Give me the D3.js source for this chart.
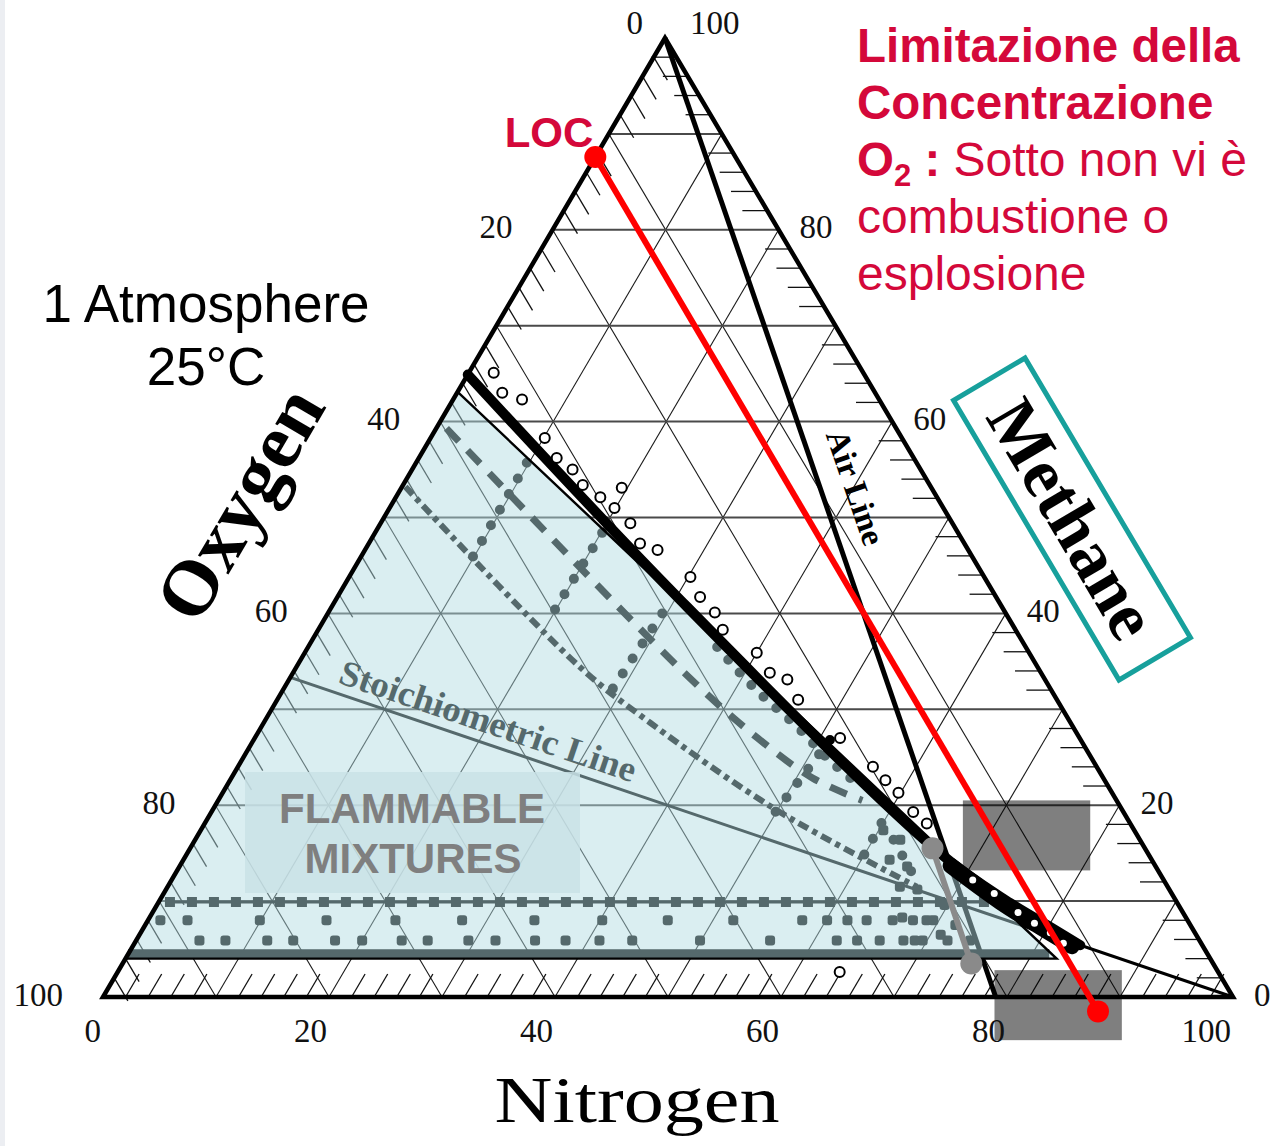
<!DOCTYPE html>
<html>
<head>
<meta charset="utf-8">
<script src="https://cdn.jsdelivr.net/npm/d3@7"></script>
<style>
  html, body { margin: 0; padding: 0; background: #ffffff; }
  svg { display: block; }
</style>
</head>
<body>
<svg id="chart" width="1270" height="1146"></svg>
<script>
// Methane / oxygen / nitrogen flammability diagram (ternary plot).
// Every point is written as [CH4 %, N2 %]; O2 = 100 - CH4 - N2.

const gridValues      = [10, 20, 30, 40, 50, 60, 70, 80, 90];
const minorTickValues = d3.range(2, 100, 2).filter(v => v % 10 !== 0);
const oxygenLabels    = [0, 20, 40, 60, 80, 100];
const methaneLabels   = [100, 80, 60, 40, 20, 0];
const nitrogenLabels  = [0, 20, 40, 60, 80, 100];

// Reference lines
const airLine    = [[100, 0], [0, 79]];
const stoichLine = [[33.33, 0], [0, 100]];
const locLine    = [[87.6, 0], [-1.5, 88.8]];        // limiting O2 concentration
const airSegment = [[15.5, 65.7], [3.5, 75.1]];

// Flammability envelope
const upperLimit = [[64.9, 0], [41.4, 30.5], [15.0, 66.6], [9.8, 75.4], [7.3, 80.2], [5.4, 83.8]];
const noseBand   = [[13.7, 68.2], [9.9, 74.5], [7.3, 79.3], [5.3, 83.1]];
const noseVoids  = [[12.2, 70.9], [10.8, 73.5], [8.8, 76.6], [7.7, 78.6], [6.7, 80.5], [5.6, 82.2]];
const flammableArea  = [[63.1, 0], [4.0, 82.4], [4.0, 0]];
const lowerLimitBand = [[4.5, 0], [4.5, 81.5]];

// Measured mixtures along the upper limit (open symbols)
const upperPoints = [
  [65.1, 2.2], [63.0, 4.0], [62.3, 6.1], [58.3, 10.1], [56.2, 12.2], [55.0, 14.2],
  [53.4, 15.9], [52.1, 18.1], [53.1, 19.5], [51.0, 19.9], [49.4, 22.1], [47.3, 24.0],
  [46.6, 25.9], [43.8, 30.2], [41.7, 32.1], [40.1, 34.2], [38.3, 35.8], [35.9, 40.0],
  [33.8, 42.2], [33.1, 44.1], [31.0, 46.1], [27.0, 51.8], [24.0, 56.2], [22.6, 58.0],
  [21.3, 59.8], [19.3, 62.1], [18.1, 63.9], [2.6, 63.9]
];

// Curves inside the flammable region
const dashedCurve  = [[59.3, 0.9], [33.9, 34.5], [27.0, 44.5], [22.8, 51.5], [20.5, 57.0]];
const dashDotCurve = [[53.2, 0.3], [34.4, 25.1], [28.6, 34.2], [19.5, 49.9], [11.5, 66.3]];
const dottedCurve  = [[36.5, 36.2], [32.3, 41.5], [28.2, 47.4], [24.7, 52.0], [22.3, 55.6]];
const dottedSegments = [
  [[55.7, 9.8], [45.9, 9.9]],
  [[48.4, 20.1], [40.0, 19.9]],
  [[40.0, 29.6], [31.7, 29.1]],
  [[26.8, 51.0], [19.2, 49.9]],
  [[19.8, 59.8], [14.6, 60.0]],
  [[16.4, 61.8], [12.9, 65.2]]
];
const rowTenPercent = [[9.9, 1.0], [9.9, 73.6]];
const rowEightN = [1.1, 3.5, 9.9, 15.8, 21.9, 27.8, 34.2, 40.2, 46.0, 51.8, 57.9, 60.1, 61.9, 63.6, 65.9, 67.7, 69.5];
const rowSixN   = [5.6, 7.9, 11.6, 13.9, 17.6, 20.0, 23.5, 25.8, 29.4, 31.8, 35.3, 38.0, 41.0, 43.9,
                   49.9, 56.1, 62.0, 63.8, 65.8, 67.9, 69.6, 71.8, 73.8];
const noseCluster = [
  [17.4, 60.4], [16.4, 62.4], [14.3, 62.5], [13.6, 64.4], [11.5, 64.8], [11.2, 66.5],
  [8.3, 66.6], [8.0, 68.9], [9.6, 69.7], [7.5, 71.7], [6.5, 70.9], [5.9, 68.9]
];

// Masked areas (corner pairs)
const maskAreas = [
  [[20.5, 65.9], [13.2, 80.8]],
  [[2.8, 77.5], [-4.5, 92.4]]
];

// ---- projection ----
const sx = d3.scaleLinear().domain([0, 100]).range([103, 1233]);  // N2 along the base
const sk = d3.scaleLinear().domain([0, 100]).range([0, 562]);     // horizontal shift due to CH4
const sy = d3.scaleLinear().domain([0, 100]).range([997, 38]);    // CH4 height
const P = d => [sx(d[1]) + sk(d[0]), sy(d[0])];
const path = d3.line().x(d => P(d)[0]).y(d => P(d)[1]);
const smooth = d3.line().curve(d3.curveCatmullRom.alpha(0.5)).x(d => P(d)[0]).y(d => P(d)[1]);

const svg = d3.select('#chart');
const serif = '"Liberation Serif", "Times New Roman", serif';
const sans = '"Liberation Sans", Arial, sans-serif';

svg.append('rect').attr('x', 0).attr('y', 0).attr('width', 1270).attr('height', 1146).attr('fill', '#fff');
svg.append('rect').attr('x', 0).attr('y', 0).attr('width', 5).attr('height', 1146).attr('fill', '#eceef2');

// ---- grid ----
const grid = svg.append('g');
gridValues.forEach(v => {
  grid.append('path').attr('d', path([[v, 0], [v, 100 - v]]))
    .attr('stroke', '#4a4a4a').attr('stroke-width', 2).attr('fill', 'none');
  grid.append('path').attr('d', path([[0, v], [100 - v, v]]))
    .attr('stroke', '#1a1a1a').attr('stroke-width', 1.1).attr('fill', 'none');
  grid.append('path').attr('d', path([[100 - v, 0], [0, 100 - v]]))
    .attr('stroke', '#1a1a1a').attr('stroke-width', 1.1).attr('fill', 'none');
});

// ---- minor ticks on the three sides ----
const ticks = svg.append('g').attr('stroke', '#111').attr('stroke-width', 1.3).attr('fill', 'none');
minorTickValues.forEach(v => {
  ticks.append('path').attr('d', path([[100 - v, 0], [100 - v - 2.4, 2.4]]));
  ticks.append('path').attr('d', path([[v, 100 - v], [v, 100 - v - 2.2]]));
  ticks.append('path').attr('d', path([[0, v], [2.4, v]]));
});

// ---- curves that sit under the tinted region ----
const inner = svg.append('g').attr('fill', 'none').attr('stroke', '#000');
inner.append('path').attr('d', path(airLine)).attr('stroke-width', 5);
inner.append('path').attr('d', path(stoichLine)).attr('stroke-width', 3);
inner.append('path').attr('d', path(lowerLimitBand)).attr('stroke-width', 9);
inner.append('path').attr('d', smooth(dashedCurve)).attr('stroke-width', 7).attr('stroke-dasharray', '18 13');
inner.append('path').attr('d', smooth(dashDotCurve)).attr('stroke-width', 6).attr('stroke-dasharray', '11 5 5 5');
inner.append('path').attr('d', smooth(dottedCurve)).attr('stroke-width', 10)
  .attr('stroke-linecap', 'round').attr('stroke-dasharray', '0 17');
dottedSegments.forEach(s => {
  inner.append('path').attr('d', path(s)).attr('stroke-width', 10)
    .attr('stroke-linecap', 'round').attr('stroke-dasharray', '0 18');
});
inner.append('path').attr('d', path(rowTenPercent)).attr('stroke-width', 3);
inner.append('path').attr('d', path(rowTenPercent)).attr('stroke-width', 10)
  .attr('stroke-linecap', 'square').attr('stroke-dasharray', '0 22');
const blob = (m, n) => {
  const [x, y] = P([m, n]);
  inner.append('rect').attr('x', x - 5).attr('y', y - 5).attr('width', 10).attr('height', 10)
    .attr('rx', 3).attr('fill', '#000').attr('stroke', 'none');
};
rowEightN.forEach(n => blob(8.0, n));
rowSixN.forEach(n => blob(5.9, n));
noseCluster.forEach(d => blob(d[0], d[1]));

// stoichiometric label
{
  const a = P(stoichLine[0]), b = P(stoichLine[1]);
  const ang = Math.atan2(b[1] - a[1], b[0] - a[0]) * 180 / Math.PI;
  const s = P([31.8, 100 - 3 * 31.8]);
  svg.append('text')
    .attr('transform', `translate(${s[0]},${s[1]}) rotate(${ang})`)
    .attr('y', -10)
    .attr('font-family', serif).attr('font-weight', 'bold').attr('font-size', 36)
    .attr('textLength', 311).attr('lengthAdjust', 'spacingAndGlyphs')
    .attr('fill', '#000').text('Stoichiometric Line');
}

// ---- tinted flammable region ----
svg.append('path').attr('d', path(flammableArea) + 'Z')
  .attr('fill', 'rgb(178,219,226)').attr('fill-opacity', 0.48).attr('stroke', 'none');
svg.append('path').attr('d', path([flammableArea[0], flammableArea[1], flammableArea[2]]))
  .attr('fill', 'none').attr('stroke', '#000').attr('stroke-width', 2.4);

// ---- triangle outline ----
svg.append('path').attr('d', path([[100, 0], [0, 0], [0, 100]]) + 'Z')
  .attr('fill', 'none').attr('stroke', '#000').attr('stroke-width', 4.5).attr('stroke-linejoin', 'miter');

// ---- upper flammability limit ----
svg.append('path').attr('d', smooth(upperLimit)).attr('fill', 'none')
  .attr('stroke', '#000').attr('stroke-width', 10).attr('stroke-linecap', 'round');
svg.append('path').attr('d', smooth(noseBand)).attr('fill', 'none')
  .attr('stroke', '#000').attr('stroke-width', 16).attr('stroke-linecap', 'round');
noseVoids.forEach(d => {
  const [x, y] = P(d);
  svg.append('circle').attr('cx', x).attr('cy', y).attr('r', 3.5).attr('fill', '#fff');
});
upperPoints.forEach(d => {
  const [x, y] = P(d);
  svg.append('circle').attr('cx', x).attr('cy', y).attr('r', 5)
    .attr('fill', '#fff').attr('stroke', '#000').attr('stroke-width', 2);
});

// air line label
{
  const a = P(airLine[0]), b = P(airLine[1]);
  const th = Math.atan2(b[1] - a[1], b[0] - a[0]);
  const c = d3.interpolate(a, b)(0.48);
  const off = 34;
  const cx = c[0] + Math.sin(th) * off, cy = c[1] - Math.cos(th) * off;
  svg.append('text')
    .attr('transform', `translate(${cx},${cy}) rotate(${th * 180 / Math.PI})`)
    .attr('text-anchor', 'middle').attr('dy', '0.35em')
    .attr('font-family', serif).attr('font-weight', 'bold').attr('font-size', 33)
    .attr('fill', '#000').text('Air Line');
}

// ---- "FLAMMABLE MIXTURES" label ----
svg.append('rect').attr('x', 245).attr('y', 772).attr('width', 335).attr('height', 121)
  .attr('fill', '#c9e2e6').attr('fill-opacity', 0.85);
svg.append('text').attr('x', 412).attr('y', 823).attr('text-anchor', 'middle')
  .attr('font-family', sans).attr('font-weight', 'bold').attr('font-size', 42)
  .attr('fill', '#7f7f7f').text('FLAMMABLE');
svg.append('text').attr('x', 413).attr('y', 873).attr('text-anchor', 'middle')
  .attr('font-family', sans).attr('font-weight', 'bold').attr('font-size', 42)
  .attr('fill', '#7f7f7f').text('MIXTURES');

// ---- masked areas ----
maskAreas.forEach(([p0, p1]) => {
  const a = P(p0), b = P(p1);
  svg.append('rect').attr('x', a[0]).attr('y', a[1])
    .attr('width', b[0] - a[0]).attr('height', b[1] - a[1])
    .attr('fill', '#000').attr('fill-opacity', 0.5);
});

// ---- air-line segment across the flammable region ----
svg.append('path').attr('d', path(airSegment)).attr('stroke', '#8a8a8a')
  .attr('stroke-width', 6).attr('fill', 'none');
airSegment.forEach(d => {
  const [x, y] = P(d);
  svg.append('circle').attr('cx', x).attr('cy', y).attr('r', 11).attr('fill', '#8a8a8a');
});

// ---- limiting oxygen concentration ----
svg.append('path').attr('d', path(locLine)).attr('stroke', '#ff0000')
  .attr('stroke-width', 6).attr('fill', 'none');
locLine.forEach(d => {
  const [x, y] = P(d);
  svg.append('circle').attr('cx', x).attr('cy', y).attr('r', 11).attr('fill', '#ff0000');
});
{
  const [x, y] = P(locLine[0]);
  svg.append('text').attr('x', x - 2).attr('y', y - 10).attr('text-anchor', 'end')
    .attr('font-family', sans).attr('font-weight', 'bold').attr('font-size', 42)
    .attr('fill', '#d4083a').text('LOC');
}

// ---- axis numbers ----
const nums = svg.append('g').attr('font-family', serif).attr('font-size', 33).attr('fill', '#111');
oxygenLabels.forEach(v => {
  const [x, y] = P([100 - v, 0]);
  nums.append('text').attr('text-anchor', 'end')
    .attr('x', v === 0 ? x - 22 : x - 40).attr('y', v === 0 ? y - 4.5 : y + 8.5).text(v);
});
methaneLabels.forEach(v => {
  const [x, y] = P([v, 100 - v]);
  nums.append('text').attr('text-anchor', 'start')
    .attr('x', v === 100 ? x + 25 : x + 21).attr('y', v === 100 ? y - 4.5 : y + 8.5).text(v);
});
nitrogenLabels.forEach(v => {
  const [x, y] = P([0, v]);
  nums.append('text').attr('text-anchor', 'end').attr('x', x - 2).attr('y', y + 44.5).text(v);
});

// ---- axis titles ----
svg.append('text').attr('transform', 'translate(242,505) rotate(-59.6)')
  .attr('text-anchor', 'middle').attr('dy', '0.3em')
  .attr('font-family', serif).attr('font-weight', 'bold').attr('font-size', 78)
  .attr('fill', '#000').text('Oxygen');

svg.append('text').attr('x', 637).attr('y', 1122).attr('text-anchor', 'middle')
  .attr('font-family', serif).attr('font-size', 66)
  .attr('textLength', 285).attr('lengthAdjust', 'spacingAndGlyphs')
  .attr('fill', '#000').text('Nitrogen');

{
  const g = svg.append('g').attr('transform', 'translate(1072,519) rotate(59.4)');
  g.append('rect').attr('x', -162.5).attr('y', -41.5).attr('width', 325).attr('height', 83)
    .attr('fill', 'none').attr('stroke', '#17a09c').attr('stroke-width', 5);
  g.append('text').attr('text-anchor', 'middle').attr('dy', '0.33em')
    .attr('font-family', serif).attr('font-weight', 'bold').attr('font-size', 70)
    .attr('fill', '#000').text('Methane');
}

// ---- conditions ----
svg.append('text').attr('x', 206).attr('y', 322).attr('text-anchor', 'middle')
  .attr('font-family', sans).attr('font-size', 53).attr('fill', '#000').text('1 Atmosphere');
svg.append('text').attr('x', 206).attr('y', 385).attr('text-anchor', 'middle')
  .attr('font-family', sans).attr('font-size', 53).attr('fill', '#000').text('25°C');

// ---- annotation ----
const note = svg.append('g').attr('font-family', sans).attr('font-size', 48).attr('fill', '#d4083a');
note.append('text').attr('x', 857).attr('y', 62).attr('font-weight', 'bold').attr('font-size', 47.5).text('Limitazione della');
note.append('text').attr('x', 857).attr('y', 119).attr('font-weight', 'bold').attr('font-size', 47.5).text('Concentrazione');
{
  const t = note.append('text').attr('x', 857).attr('y', 176);
  t.append('tspan').attr('font-weight', 'bold').attr('font-size', 47.5).text('O');
  t.append('tspan').attr('font-weight', 'bold').attr('font-size', 31).attr('dy', 10).text('2');
  t.append('tspan').attr('font-weight', 'bold').attr('font-size', 47.5).attr('dy', -10).text('\u00a0:\u00a0');
  t.append('tspan').text('Sotto non vi è');
}
note.append('text').attr('x', 857).attr('y', 233).text('combustione o');
note.append('text').attr('x', 857).attr('y', 290).text('esplosione');
</script>
</body>
</html>
